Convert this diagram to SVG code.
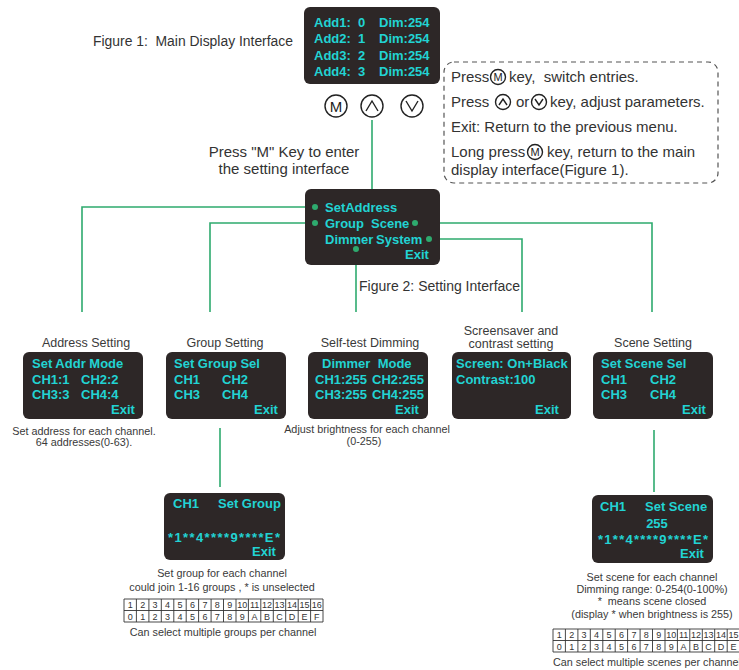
<svg xmlns="http://www.w3.org/2000/svg" width="739" height="670" viewBox="0 0 739 670">
<style>
.scr{fill:#2d2727}
.t{font-family:"Liberation Sans",Arial,sans-serif;font-weight:bold;font-size:13px;fill:#22d3d3}
.lbl{font-family:"Liberation Sans",Arial,sans-serif;font-size:12.5px;fill:#3a3a3a;text-anchor:middle}
.cap{font-family:"Liberation Sans",Arial,sans-serif;font-size:10.8px;fill:#3a3a3a;text-anchor:middle}
.big{font-family:"Liberation Sans",Arial,sans-serif;font-size:15px;fill:#333}
.fig{font-family:"Liberation Sans",Arial,sans-serif;font-size:14px;fill:#333}
.con{stroke:#2eaa6e;stroke-width:1.6;fill:none}
.dot{fill:#2eaa6e}
.key{fill:none;stroke:#222;stroke-width:1.4}
.ks{font-family:"Liberation Sans",Arial,sans-serif;fill:#222;text-anchor:middle}
.grid{fill:none;stroke:#333;stroke-width:0.9}
.tc{font-family:"Liberation Sans",Arial,sans-serif;font-size:9px;fill:#333;text-anchor:middle}
</style>

<!-- Connectors -->
<g id="connectors">
  <line class="con" x1="372" y1="120" x2="372" y2="189"/>
  <polyline class="con" points="315,207 82,207 82,312"/>
  <polyline class="con" points="315,223 210,223 210,312"/>
  <polyline class="con" points="356,249 356,312"/>
  <polyline class="con" points="415,223 652,223 652,312"/>
  <polyline class="con" points="429,239 522,239 522,312"/>
  <line class="con" x1="220" y1="428" x2="220" y2="487"/>
  <line class="con" x1="654" y1="430" x2="654" y2="492"/>
</g>

<!-- Figure 1 -->
<g id="main-display">
  <rect class="scr" x="304" y="7" width="136" height="77" rx="6"/>
  <text class="t" x="314" y="27">Add1:</text><text class="t" x="358" y="27">0</text><text class="t" x="379" y="27">Dim:254</text>
  <text class="t" x="314" y="43">Add2:</text><text class="t" x="358" y="43">1</text><text class="t" x="379" y="43">Dim:254</text>
  <text class="t" x="314" y="60">Add3:</text><text class="t" x="358" y="60">2</text><text class="t" x="379" y="60">Dim:254</text>
  <text class="t" x="314" y="76">Add4:</text><text class="t" x="358" y="76">3</text><text class="t" x="379" y="76">Dim:254</text>
</g>
<text class="fig" x="93" y="46" textLength="200" lengthAdjust="spacingAndGlyphs" xml:space="preserve">Figure 1:  Main Display Interface</text>

<g id="keys">
  <circle class="key" cx="336" cy="106" r="11"/>
  <text class="ks" x="336" y="111.5" font-size="15">M</text>
  <circle class="key" cx="372" cy="106" r="11"/>
  <polyline class="key" stroke-width="1.7" points="366,111 372,101 378,111"/>
  <circle class="key" cx="412" cy="106" r="11"/>
  <polyline class="key" stroke-width="1.7" points="406,101 412,111 418,101"/>
</g>

<!-- Legend -->
<g id="legend">
  <rect x="444" y="62" width="274" height="121" rx="10" fill="none" stroke="#555" stroke-width="1.2" stroke-dasharray="5 4"/>
  <text class="big" x="451" y="82">Press</text>
  <circle class="key" cx="498" cy="77" r="7.5" stroke-width="1.2"/>
  <text class="ks" x="498" y="81" font-size="11">M</text>
  <text class="big" x="509" y="82" xml:space="preserve">key,  switch entries.</text>

  <text class="big" x="451" y="107">Press</text>
  <circle class="key" cx="503" cy="102" r="7.5" stroke-width="1.2"/>
  <polyline class="key" stroke-width="1.2" points="499,105 503,99 507,105"/>
  <text class="big" x="516" y="107">or</text>
  <circle class="key" cx="539" cy="102" r="7.5" stroke-width="1.2"/>
  <polyline class="key" stroke-width="1.2" points="535,99 539,105 543,99"/>
  <text class="big" x="550" y="107">key, adjust parameters.</text>

  <text class="big" x="451" y="132">Exit: Return to the previous menu.</text>

  <text class="big" x="451" y="157">Long press</text>
  <circle class="key" cx="535" cy="152" r="7.5" stroke-width="1.2"/>
  <text class="ks" x="535" y="156" font-size="11">M</text>
  <text class="big" x="547" y="157">key, return to the main</text>
  <text class="big" x="451" y="175">display interface(Figure 1).</text>
</g>

<text class="big" x="284" y="157" text-anchor="middle" font-size="14.6">Press "M" Key to enter</text>
<text class="big" x="284" y="174" text-anchor="middle" font-size="14.6">the setting interface</text>

<!-- Figure 2 -->
<g id="setting-interface">
  <rect class="scr" x="305" y="189" width="135" height="76" rx="6"/>
  <text class="t" x="325" y="212">SetAddress</text>
  <text class="t" x="325" y="228">Group</text><text class="t" x="371" y="228">Scene</text>
  <text class="t" x="325" y="244">Dimmer</text><text class="t" x="376" y="244">System</text>
  <text class="t" x="405" y="259">Exit</text>
  <circle class="dot" cx="315" cy="207" r="3"/>
  <circle class="dot" cx="315" cy="223" r="3"/>
  <circle class="dot" cx="415" cy="223" r="3"/>
  <circle class="dot" cx="429" cy="239" r="3"/>
  <circle class="dot" cx="356" cy="249" r="3"/>
</g>
<text class="fig" x="359" y="291" font-size="14.5">Figure 2: Setting Interface</text>

<!-- Address -->
<g id="address-setting">
  <text class="lbl" x="86" y="347">Address Setting</text>
  <rect class="scr" x="23" y="352" width="120" height="67" rx="6"/>
  <text class="t" x="32" y="368">Set Addr Mode</text>
  <text class="t" x="32" y="384">CH1:1</text><text class="t" x="81" y="384">CH2:2</text>
  <text class="t" x="32" y="399">CH3:3</text><text class="t" x="81" y="399">CH4:4</text>
  <text class="t" x="111" y="414">Exit</text>
  <text class="cap" x="84" y="435" font-size="11.2">Set address for each channel.</text>
  <text class="cap" x="84" y="446" font-size="11.2">64 addresses(0-63).</text>
</g>

<!-- Group -->
<g id="group-setting">
  <text class="lbl" x="225" y="347">Group Setting</text>
  <rect class="scr" x="166" y="352" width="120" height="67" rx="6"/>
  <text class="t" x="174" y="368">Set Group Sel</text>
  <text class="t" x="174" y="384">CH1</text><text class="t" x="222" y="384">CH2</text>
  <text class="t" x="174" y="399">CH3</text><text class="t" x="222" y="399">CH4</text>
  <text class="t" x="254" y="414">Exit</text>
</g>

<!-- Self-test -->
<g id="self-test-dimming">
  <text class="lbl" x="370" y="347">Self-test Dimming</text>
  <rect class="scr" x="308" y="352" width="120" height="67" rx="6"/>
  <text class="t" x="322" y="368" xml:space="preserve">Dimmer  Mode</text>
  <text class="t" x="315" y="384">CH1:255</text><text class="t" x="372" y="384">CH2:255</text>
  <text class="t" x="315" y="399">CH3:255</text><text class="t" x="372" y="399">CH4:255</text>
  <text class="t" x="395" y="414">Exit</text>
  <text class="cap" x="367" y="433">Adjust brightness for each channel</text>
  <text class="cap" x="364" y="445">(0-255)</text>
</g>

<!-- Screensaver -->
<g id="screensaver-setting">
  <text class="lbl" x="511" y="335">Screensaver and</text>
  <text class="lbl" x="511" y="348">contrast setting</text>
  <rect class="scr" x="452" y="352" width="119" height="67" rx="6"/>
  <text class="t" x="456" y="368">Screen: On+Black</text>
  <text class="t" x="456" y="384">Contrast:100</text>
  <text class="t" x="535" y="414">Exit</text>
</g>

<!-- Scene -->
<g id="scene-setting">
  <text class="lbl" x="653" y="347">Scene Setting</text>
  <rect class="scr" x="593" y="352" width="120" height="67" rx="6"/>
  <text class="t" x="601" y="368">Set Scene Sel</text>
  <text class="t" x="601" y="384">CH1</text><text class="t" x="650" y="384">CH2</text>
  <text class="t" x="601" y="399">CH3</text><text class="t" x="650" y="399">CH4</text>
  <text class="t" x="682" y="414">Exit</text>
</g>

<!-- Set Group -->
<g id="set-group">
  <rect class="scr" x="164" y="493" width="121" height="67" rx="6"/>
  <text class="t" x="173" y="508">CH1</text><text class="t" x="218" y="508">Set Group</text>
  <text class="t" x="168" y="542" textLength="112" lengthAdjust="spacing">*1**4****9****E*</text>
  <text class="t" x="252" y="556">Exit</text>
  <text class="cap" x="222" y="577">Set group for each channel</text>
  <text class="cap" x="222" y="591">could join 1-16 groups , * is unselected</text>
  <path class="grid" d="M124 599h199v23h-199z M124 610.5h199 M136.4 599v23 M148.9 599v23 M161.3 599v23 M173.8 599v23 M186.2 599v23 M198.6 599v23 M211.1 599v23 M223.5 599v23 M236 599v23 M248.4 599v23 M260.8 599v23 M273.3 599v23 M285.7 599v23 M298.2 599v23 M310.6 599v23"/>
  <g class="tc">
    <text x="130.2" y="608">1</text><text x="142.7" y="608">2</text><text x="155.1" y="608">3</text><text x="167.5" y="608">4</text><text x="180" y="608">5</text><text x="192.4" y="608">6</text><text x="204.9" y="608">7</text><text x="217.3" y="608">8</text><text x="229.7" y="608">9</text><text x="242.2" y="608">10</text><text x="254.6" y="608">11</text><text x="267.1" y="608">12</text><text x="279.5" y="608">13</text><text x="291.9" y="608">14</text><text x="304.4" y="608">15</text><text x="316.8" y="608">16</text>
    <text x="130.2" y="619.5">0</text><text x="142.7" y="619.5">1</text><text x="155.1" y="619.5">2</text><text x="167.5" y="619.5">3</text><text x="180" y="619.5">4</text><text x="192.4" y="619.5">5</text><text x="204.9" y="619.5">6</text><text x="217.3" y="619.5">7</text><text x="229.7" y="619.5">8</text><text x="242.2" y="619.5">9</text><text x="254.6" y="619.5">A</text><text x="267.1" y="619.5">B</text><text x="279.5" y="619.5">C</text><text x="291.9" y="619.5">D</text><text x="304.4" y="619.5">E</text><text x="316.8" y="619.5">F</text>
  </g>
  <text class="cap" x="223" y="636">Can select multiple groups per channel</text>
</g>

<!-- Set Scene -->
<g id="set-scene">
  <rect class="scr" x="592" y="495" width="121" height="68" rx="6"/>
  <text class="t" x="600" y="511">CH1</text><text class="t" x="645" y="511">Set Scene</text>
  <text class="t" x="657" y="528" text-anchor="middle">255</text>
  <text class="t" x="598" y="544" textLength="110" lengthAdjust="spacing">*1**4****9****E*</text>
  <text class="t" x="680" y="558">Exit</text>
  <text class="cap" x="652" y="581">Set scene for each channel</text>
  <text class="cap" x="652" y="593">Dimming range: 0-254(0-100%)</text>
  <text class="cap" x="652" y="605" xml:space="preserve">*  means scene closed</text>
  <text class="cap" x="652" y="618">(display * when brightness is 255)</text>
  <path class="grid" d="M553 629h199v23h-199z M553 640.5h199 M565.4 629v23 M577.9 629v23 M590.3 629v23 M602.8 629v23 M615.2 629v23 M627.6 629v23 M640.1 629v23 M652.5 629v23 M665 629v23 M677.4 629v23 M689.8 629v23 M702.3 629v23 M714.7 629v23 M727.2 629v23 M739.6 629v23"/>
  <g class="tc">
    <text x="559.2" y="638">1</text><text x="571.7" y="638">2</text><text x="584.1" y="638">3</text><text x="596.5" y="638">4</text><text x="609" y="638">5</text><text x="621.4" y="638">6</text><text x="633.9" y="638">7</text><text x="646.3" y="638">8</text><text x="658.7" y="638">9</text><text x="671.2" y="638">10</text><text x="683.6" y="638">11</text><text x="696.1" y="638">12</text><text x="708.5" y="638">13</text><text x="720.9" y="638">14</text><text x="733.4" y="638">15</text><text x="745.8" y="638">16</text>
    <text x="559.2" y="649.5">0</text><text x="571.7" y="649.5">1</text><text x="584.1" y="649.5">2</text><text x="596.5" y="649.5">3</text><text x="609" y="649.5">4</text><text x="621.4" y="649.5">5</text><text x="633.9" y="649.5">6</text><text x="646.3" y="649.5">7</text><text x="658.7" y="649.5">8</text><text x="671.2" y="649.5">9</text><text x="683.6" y="649.5">A</text><text x="696.1" y="649.5">B</text><text x="708.5" y="649.5">C</text><text x="720.9" y="649.5">D</text><text x="733.4" y="649.5">E</text><text x="745.8" y="649.5">F</text>
  </g>
  <text class="cap" x="553" y="666" style="text-anchor:start">Can select multiple scenes per channel</text>
</g>
</svg>
